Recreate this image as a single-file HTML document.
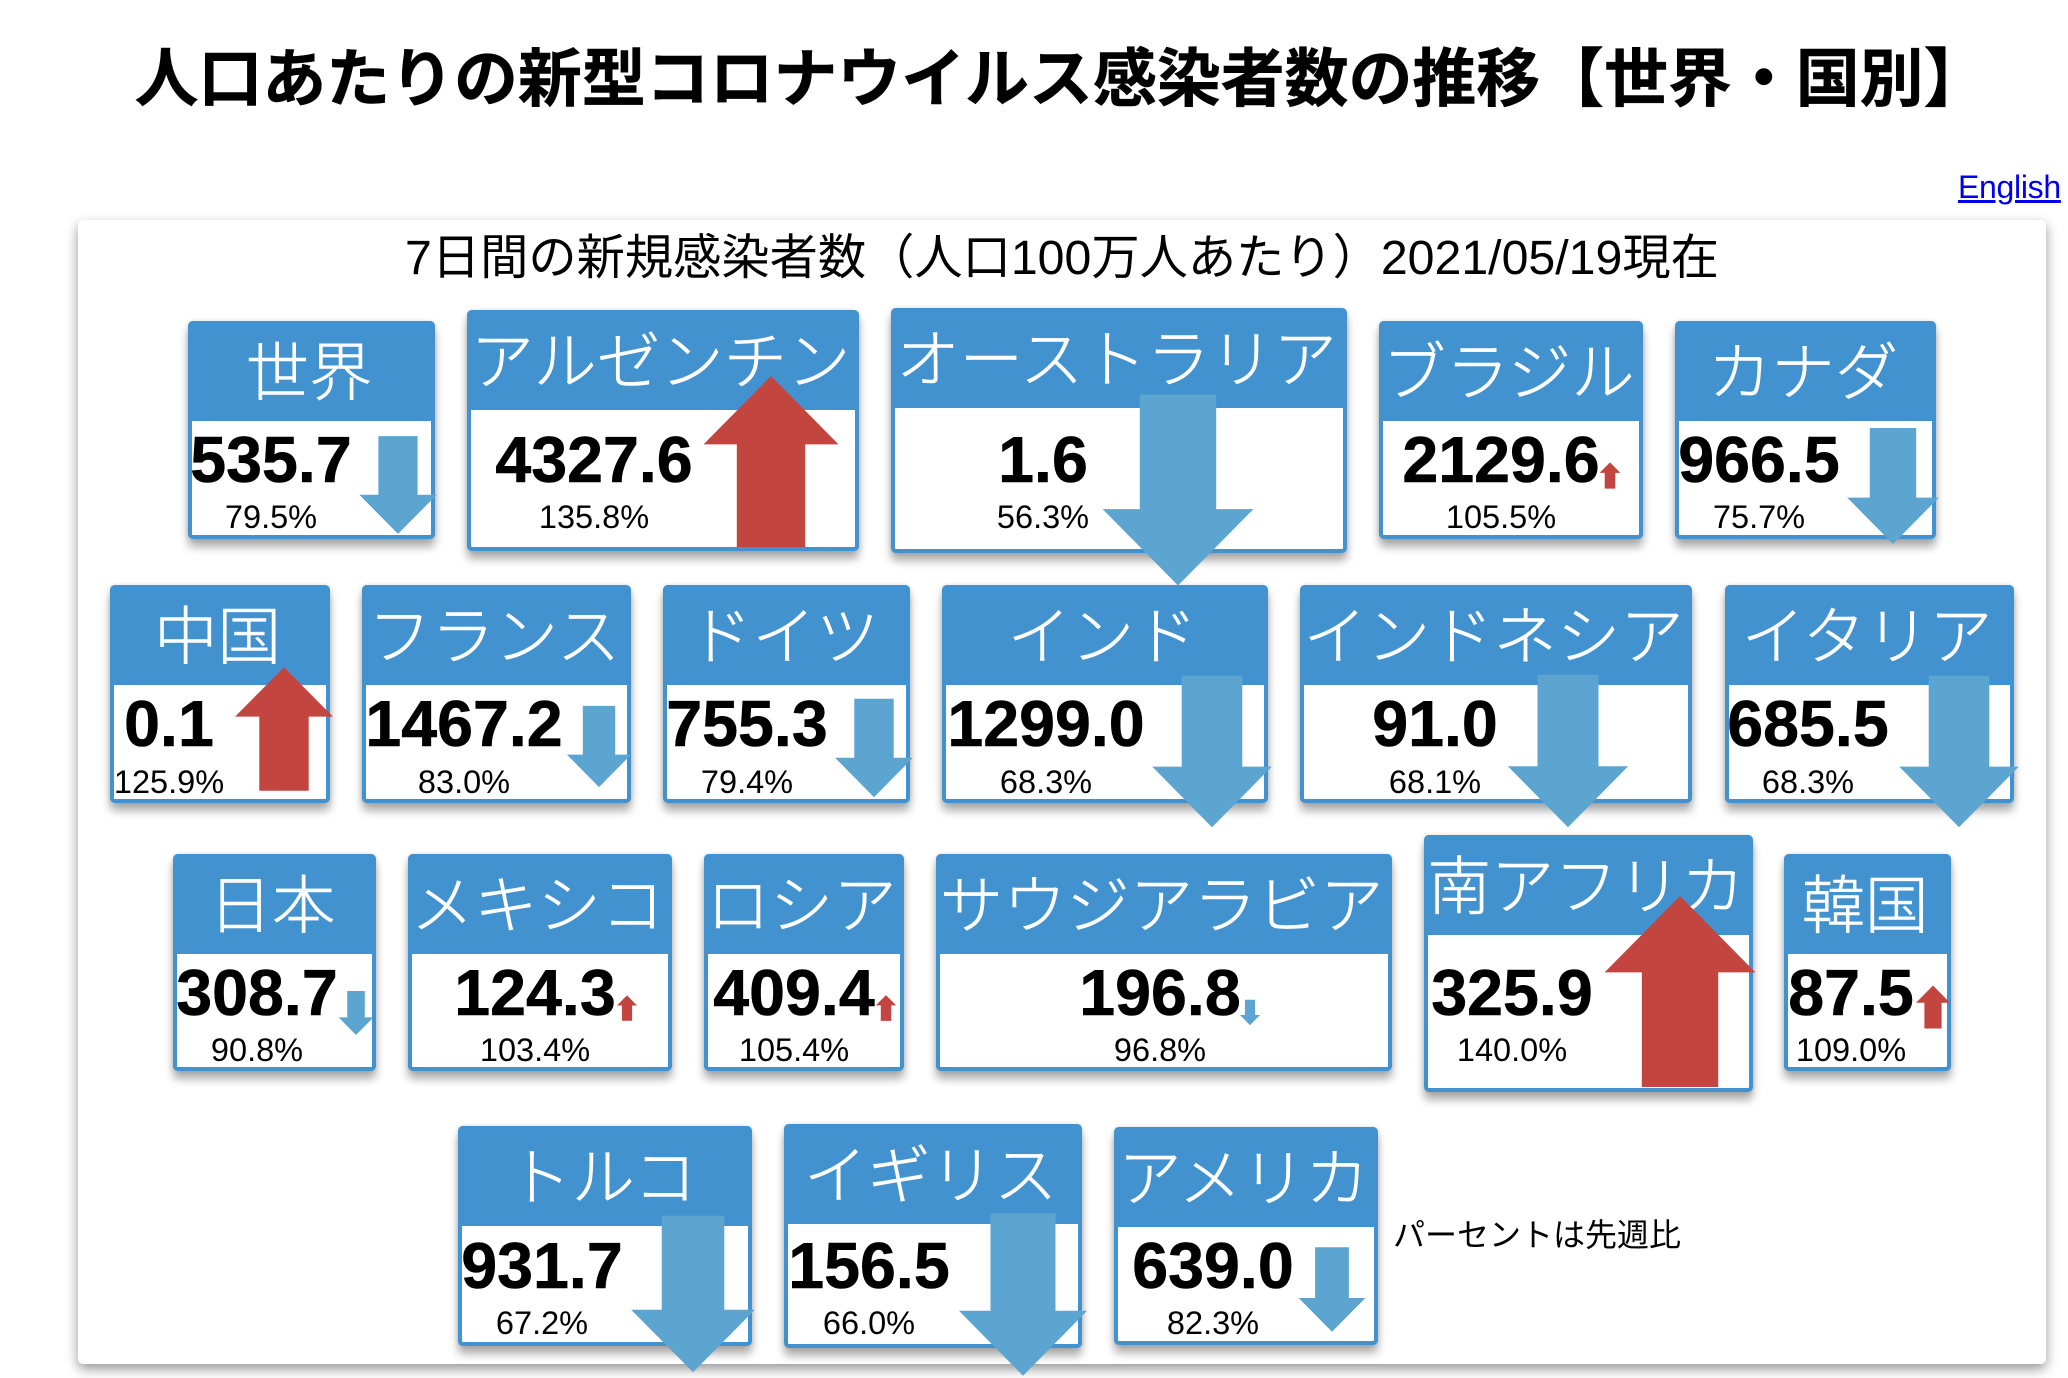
<!DOCTYPE html>
<html lang="ja">
<head>
<meta charset="utf-8">
<title>人口あたりの新型コロナウイルス感染者数の推移【世界・国別】</title>
<style>
html,body{margin:0;padding:0;background:#fff;}
body{position:relative;width:2068px;height:1378px;overflow:hidden;font-family:"Liberation Sans","Noto Sans CJK JP",sans-serif;color:#000;}
#page-title{position:absolute;left:27px;top:35px;width:2068px;text-align:center;font-size:63.9px;line-height:88px;font-weight:700;white-space:nowrap;-webkit-text-stroke:.5px #000;}
#english-link{position:absolute;left:1958px;top:167px;font-size:32px;line-height:40px;color:#0000ee;text-decoration:underline;letter-spacing:-.3px;}
#panel{position:absolute;left:78px;top:220px;width:1968px;height:1144px;background:#fff;border-radius:5px;box-shadow:0 5px 12px rgba(0,0,0,.42);}
#panel-title{position:absolute;left:405px;top:228px;font-size:48.25px;line-height:60px;white-space:nowrap;}
#note{position:absolute;left:1393px;top:1213px;font-size:32px;line-height:44px;white-space:nowrap;}
.card{position:absolute;box-sizing:border-box;background:#fff;border:4px solid #4392d0;border-radius:5px;box-shadow:0 8px 9px rgba(0,0,0,.32),0 0 5px rgba(0,0,0,.14);}
.head{position:absolute;background:#4392d0;color:#fff;text-align:center;font-size:63.4px;height:100px;white-space:nowrap;font-weight:300;text-indent:-5px;-webkit-text-stroke:.5px #fff;}
.num,.pct{position:absolute;white-space:nowrap;text-align:center;width:300px;line-height:1;}
.num{font-size:64.5px;font-weight:700;-webkit-text-stroke:.6px #000;}
.pct{font-size:32.5px;}
#arrows{position:absolute;left:0;top:0;pointer-events:none;}
</style>
</head>
<body>
<div id="page-title">人口あたりの新型コロナウイルス感染者数の推移【世界・国別】</div>
<a id="english-link" href="#">English</a>
<div id="panel"></div>
<div id="panel-title">7日間の新規感染者数（人口100万人あたり）2021/05/19現在</div>
<div id="cards"></div>
<svg id="arrows" width="2068" height="1378" viewBox="0 0 2068 1378"></svg>
<div id="note">パーセントは先週比</div>
<script>
const countries = ["世界","アルゼンチン","オーストラリア","ブラジル","カナダ","中国","フランス","ドイツ","インド","インドネシア","イタリア","日本","メキシコ","ロシア","サウジアラビア","南アフリカ","韓国","トルコ","イギリス","アメリカ"];
const countrySlugs = ["world","argentina","australia","brazil","canada","china","france","germany","india","indonesia","italy","japan","mexico","russia","saudi-arabia","south-africa","korea","turkey","uk","usa"];
const newCases = [535.7,4327.6,1.6,2129.6,966.5,0.1,1467.2,755.3,1299.0,91.0,685.5,308.7,124.3,409.4,196.8,325.9,87.5,931.7,156.5,639.0];
const weekRatio = [79.5,135.8,56.3,105.5,75.7,125.9,83.0,79.4,68.3,68.1,68.3,90.8,103.4,105.4,96.8,140.0,109.0,67.2,66.0,82.3];

/* Layout only: [left, top, right, bottom, headerBottom, textCentreX, arrowCentreX, arrowCentreY, row] */
const layout = [
[188,321,435,539,421,271,398,485,0],[467,310,859,551,410,594,771,461.5,0],[891,308,1347,553,408,1043,1178,490,0],[1379,321,1643,539,421,1501,1610,475.5,0],[1675,321,1936,539,421,1759,1893,486,0],
[110,585,330,803,685,169,284,729,1],[362,585,631,803,685,464,599,746.5,1],[663,585,910,803,685,747,874,748,1],[942,585,1268,803,685,1046,1212,751.5,1],[1300,585,1692,803,685,1435,1568,751,1],[1725,585,2014,803,685,1808,1959,751.5,1],
[173,854,376,1071,954,257,356,1013,2],[408,854,672,1071,954,535,627,1008,2],[704,854,904,1071,954,794,886,1008,2],[936,854,1392,1071,954,1160,1250,1012.5,2],[1424,835,1753,1092,935,1512,1680,991.5,2],[1784,854,1951,1071,954,1851,1933,1007,2],
[458,1126,752,1346,1226,542,693,1294,3],[784,1124,1082,1348,1224,869,1023,1294.5,3],[1114,1127,1378,1345,1227,1213,1332,1289.5,3]
];
const rowNumBaseline = [486,750,1019,1292];
const rowPctBaseline = [530,795,1063,1336];

/* Arrow scale: length is proportional to the distance from 100%, clamped */
function arrowLength(ratio){
  const d = Math.min(40, Math.max(5.3, Math.abs(ratio - 100)));
  return d * 4.775;
}
const SVGNS = "http://www.w3.org/2000/svg";
const cardsRoot = document.getElementById("cards");
const arrowsRoot = document.getElementById("arrows");

function formatValue(v){ return v.toFixed(1); }

countries.forEach(function(name, i){
  const b = layout[i];
  const slug = countrySlugs[i];
  const card = document.createElement("div");
  card.className = "card";
  card.style.cssText = "left:"+b[0]+"px;top:"+b[1]+"px;width:"+(b[2]-b[0])+"px;height:"+(b[3]-b[1])+"px;";
  
  
  cardsRoot.appendChild(card);

  const head = document.createElement("div");
  head.className = "head";
  head.textContent = name;
  head.style.cssText = "left:"+b[0]+"px;top:"+b[1]+"px;width:"+(b[2]-b[0])+"px;height:"+(b[4]-b[1])+"px;line-height:"+(b[4]-b[1]+6)+"px;border-radius:5px 5px 0 0;";
  
  
  cardsRoot.appendChild(head);

  const num = document.createElement("div");
  num.className = "num";
  num.textContent = formatValue(newCases[i]);
  num.style.cssText = "left:"+(b[5]-150)+"px;top:"+(rowNumBaseline[b[8]]-58)+"px;";
  
  
  cardsRoot.appendChild(num);

  const pct = document.createElement("div");
  pct.className = "pct";
  pct.textContent = formatValue(weekRatio[i]) + "%";
  pct.style.cssText = "left:"+(b[5]-150)+"px;top:"+(rowPctBaseline[b[8]]-29)+"px;";
  
  
  cardsRoot.appendChild(pct);

  const L = arrowLength(weekRatio[i]);
  const up = weekRatio[i] >= 100;
  const cx = b[6], cy = b[7];
  const dir = up ? -1 : 1;
  const tipY = cy + dir * L / 2;
  const tailY = cy - dir * L / 2;
  const neckY = tipY - dir * L * 0.4;
  const hw = L * 0.395, sw = L * 0.2;
  const pts = [[cx,tipY],[cx+hw,neckY],[cx+sw,neckY],[cx+sw,tailY],[cx-sw,tailY],[cx-sw,neckY],[cx-hw,neckY]];
  const arrow = document.createElementNS(SVGNS, "polygon");
  arrow.setAttribute("points", pts.map(function(p){return p[0].toFixed(1)+","+p[1].toFixed(1);}).join(" "));
  arrow.setAttribute("fill", up ? "#c34540" : "#5ca5d1");
  
  
  arrowsRoot.appendChild(arrow);
});
</script>
</body>
</html>
